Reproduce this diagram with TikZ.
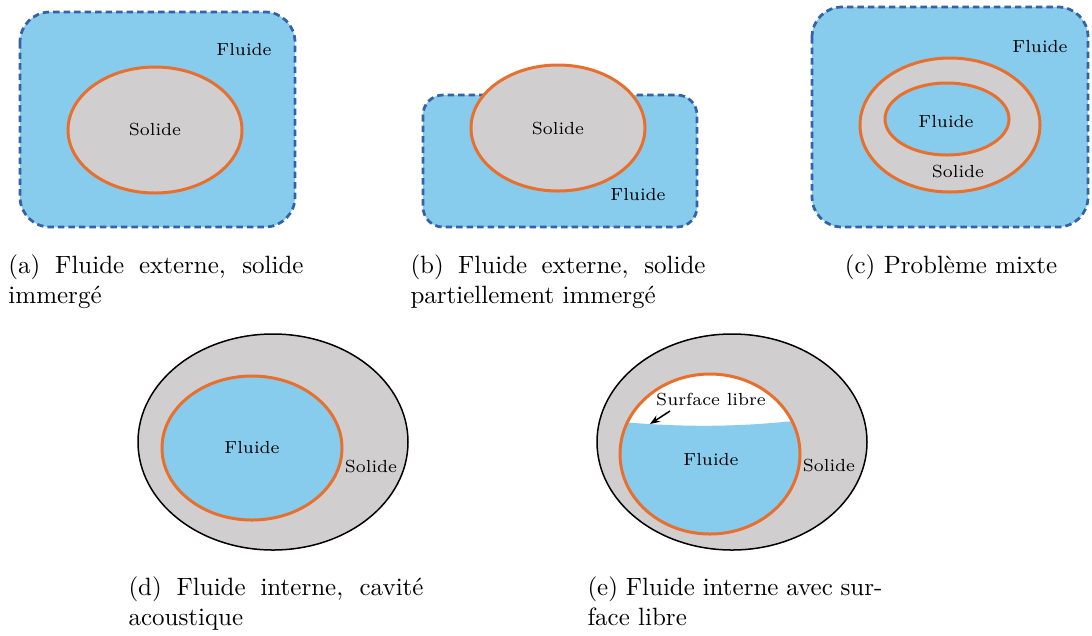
\documentclass[tikz,border=0pt]{standalone}
\usetikzlibrary{arrows.meta}

\definecolor{bleu}{RGB}{135,204,236}
\definecolor{bordure}{RGB}{52,98,168}
\definecolor{orangeI}{RGB}{232,112,46}
\definecolor{gris}{RGB}{208,206,206}

\tikzset{
  fluide/.style={fill=bleu, draw=bordure, line width=1.1pt, dash pattern=on 2.6pt off 1.6pt},
  interface/.style={draw=orangeI, line width=1.2pt},
  paroi/.style={draw=black, line width=0.6pt, fill=gris},
  etiq/.style={font=\scriptsize, inner sep=1pt},
  legende/.style={anchor=base west, text width=118pt, align=justify, inner sep=0pt},
}

\begin{document}
\begin{tikzpicture}[x=0.4pt, y=-0.4pt]
\useasboundingbox (0,0) rectangle (1092,635);

% (a) solide immerge
\draw[fluide, rounded corners=12pt] (20,12) rectangle (295,227);
\draw[interface, fill=gris] (155,130) ellipse (87 and 63);
\node[etiq] (Sa) at (155,130) {Solide};
\node[etiq] (Fa) at (244,50) {Fluide};
\node[legende] (La) at (8,273) {(a) Fluide externe, solide\linebreak immergé};

% (b) solide partiellement immerge
\draw[fluide, rounded corners=8pt] (423,95) rectangle (697,227);
\draw[interface, fill=gris] (558,128) ellipse (87 and 63);
\node[etiq] (Sb) at (558,129) {Solide};
\node[etiq] (Fb) at (638,195) {Fluide};
\node[legende] (Lb) at (410,273) {(b) Fluide externe, solide\linebreak partiellement immergé};

% (c) probleme mixte
\draw[fluide, rounded corners=12pt] (812,7) rectangle (1088,227);
\draw[interface, fill=gris] (950,125) ellipse (90 and 67);
\draw[interface, fill=bleu] (947,119) ellipse (62 and 36);
\node[etiq] (Fc) at (1040,47) {Fluide};
\node[etiq] (Fci) at (946,122) {Fluide};
\node[etiq] (Sc) at (958,172) {Solide};
\node[anchor=base] (Lc) at (951,273) {(c) Problème mixte};

% (d) cavite acoustique
\draw[paroi] (273,442) ellipse (135 and 108);
\draw[interface, fill=bleu] (252,448) ellipse (90 and 72);
\node[etiq] (Fd) at (252,448) {Fluide};
\node[etiq] (Sd) at (371,467) {Solide};
\node[legende] (Ld) at (128,595) {(d) Fluide interne, cavité\linebreak acoustique};

% (e) surface libre
\draw[paroi] (732,442) ellipse (135 and 108);
\fill[white] (710,454) ellipse (90 and 80);
\begin{scope}
  \clip (710,454) ellipse (90 and 80);
  \fill[bleu] (600,420) .. controls (680,428) and (740,428) .. (820,418) -- (820,540) -- (600,540) -- cycle;
\end{scope}
\draw[interface] (710,454) ellipse (90 and 80);
\coordinate (surf) at (650,424);
\node[etiq] (Se) at (711,400) {Surface libre};
\draw[-{Stealth[length=4pt]}, line width=0.6pt] (670,411) -- (surf);
\node[etiq] (Fe) at (711,459) {Fluide};
\node[etiq] (Sle) at (829,466) {Solide};
\node[legende] (Le) at (587,595) {(e) Fluide interne avec sur-\linebreak face libre};
\end{tikzpicture}
\end{document}
